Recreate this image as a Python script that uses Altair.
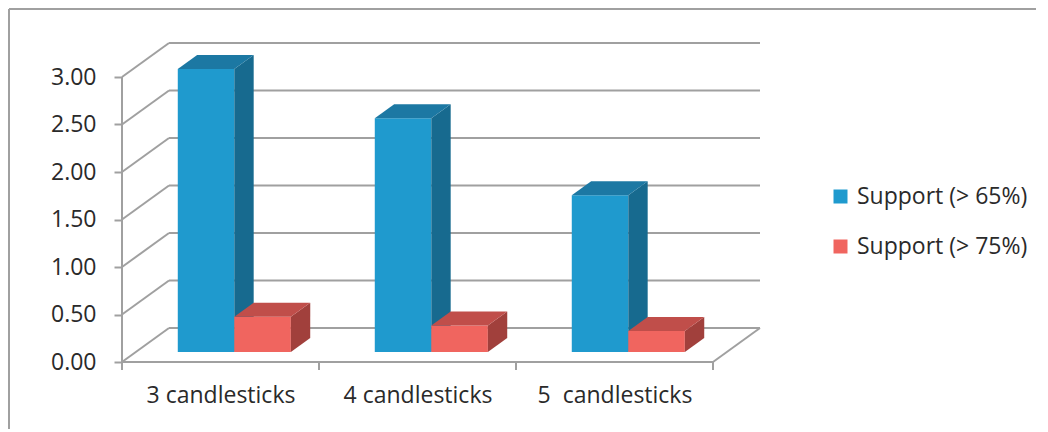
import altair as alt
import pandas as pd

# ---- data ----
categories = ["3 candlesticks", "4 candlesticks", "5\u00a0 candlesticks"]
series = ["Support (> 65%)", "Support (> 75%)"]
support65 = [2.98, 2.46, 1.65]
support75 = [0.37, 0.28, 0.22]
y_ticks = [0, 0.5, 1.0, 1.5, 2.0, 2.5, 3.0]

# ---- 3D look constants (category / value units) ----
BAR_W = 0.287      # bar width in category units
DX = 0.2386        # full depth shift along x (category units)
DY = 0.358         # full depth shift along y (value units)
ZF, ZB = 0.294, 0.706   # front / back depth of the bars
W_PX, H_PX = 638, 323

FRONT = ["#1F9ACE", "#F0655F"]
SIDE = ["#176A8F", "#A1403C"]
TOP = ["#1C78A3", "#C04E4A"]
GRID = "#A0A0A0"
TXT = "#2a2a2a"
FS = 23

values = [support65, support75]
front_rows, side_rows, top_rows = [], [], []
for i, c in enumerate(categories):
    for s_idx, s in enumerate(series):
        v = values[s_idx][i]
        x1 = i - BAR_W + s_idx * BAR_W + ZF * DX
        x2 = x1 + BAR_W
        d = (ZB - ZF) * DX
        key = f"{i}-{s_idx}"
        front_rows.append(dict(series=s, key=key, x1=x1, x2=x2, y1=ZF * DY, y2=v + ZF * DY))
        side_rows += [dict(series=s, key=key, x=x2, lo=ZF * DY, hi=v + ZF * DY),
                      dict(series=s, key=key, x=x2 + d, lo=ZB * DY, hi=v + ZB * DY)]
        top_rows += [dict(series=s, key=key, y=v + ZF * DY, xa=x1, xb=x2),
                     dict(series=s, key=key, y=v + ZB * DY, xa=x1 + d, xb=x2 + d)]

front_df = pd.DataFrame(front_rows)
side_df = pd.DataFrame(side_rows)
top_df = pd.DataFrame(top_rows)

n = len(categories)
seg = []
for g in y_ticks:
    seg.append(dict(x=-0.5 + DX, y=g + DY, x2=n - 0.5 + DX, y2=g + DY))  # back wall
    seg.append(dict(x=-0.5, y=g, x2=-0.5 + DX, y2=g + DY))               # left wall
seg.append(dict(x=-0.5, y=0, x2=-0.5, y2=y_ticks[-1]))                   # front value axis
seg.append(dict(x=-0.5, y=0, x2=n - 0.5, y2=0))                          # front floor edge
seg.append(dict(x=n - 0.5, y=0, x2=n - 0.5 + DX, y2=DY))                 # right floor edge
seg_df = pd.DataFrame(seg)
bounds_df = pd.DataFrame({"b": [i - 0.5 for i in range(n + 1)]})

xs = alt.Scale(domain=[-0.5, n - 0.5 + DX], nice=False, zero=False)
ys = alt.Scale(domain=[0, 3.4], nice=False, zero=False)

label_expr = "[" + ",".join("'" + c + "'" for c in categories) + "][datum.value]"

AX_X = alt.Axis(values=[0, 1, 2], labelExpr=label_expr, ticks=False, domain=False, grid=False,
                labelFontSize=FS, labelPadding=22, labelColor=TXT, title=None)
AX_Y = alt.Axis(values=y_ticks, format=".2f", ticks=True, tickSize=8, tickWidth=2,
                tickColor=GRID, domain=False, grid=False, labelFontSize=FS, labelPadding=18,
                labelColor=TXT, title=None)

grid = alt.Chart(seg_df).mark_rule(color=GRID, strokeWidth=2).encode(
    x=alt.X("x:Q", scale=xs, axis=AX_X),
    y=alt.Y("y:Q", scale=ys, axis=AX_Y),
    x2="x2:Q", y2="y2:Q",
)

xticks = alt.Chart(bounds_df).mark_rule(color=GRID, strokeWidth=2).encode(
    x=alt.X("b:Q", scale=xs, axis=AX_X),
    y=alt.value(H_PX), y2=alt.value(H_PX + 8),
)

one = pd.DataFrame({"a": [0]})
border_left = alt.Chart(one).mark_rule(color=GRID, strokeWidth=2).encode(
    x=alt.value(-113), y=alt.value(-30), y2=alt.value(390))
border_top = alt.Chart(one).mark_rule(color=GRID, strokeWidth=2).encode(
    x=alt.value(-113), x2=alt.value(914), y=alt.value(-30))

color = alt.Color("series:N", scale=alt.Scale(domain=series, range=FRONT),
                  legend=alt.Legend(title=None, orient="none", legendX=707, legendY=146,
                                    symbolType="square", symbolSize=196, symbolStrokeWidth=0,
                                    labelFontSize=FS, labelOffset=5, rowPadding=26,
                                    labelLimit=400, labelColor=TXT))

bar_layers = []
for s_idx, s in enumerate(series):
    f = alt.datum.series == s
    front = alt.Chart(front_df).transform_filter(f).mark_rect().encode(
        x=alt.X("x1:Q", scale=xs, axis=AX_X), x2="x2:Q",
        y=alt.Y("y1:Q", scale=ys, axis=AX_Y), y2="y2:Q",
        color=color,
    )
    side = alt.Chart(side_df).transform_filter(f).mark_area(color=SIDE[s_idx]).encode(
        x=alt.X("x:Q", scale=xs, axis=AX_X),
        y=alt.Y("hi:Q", scale=ys, axis=AX_Y, stack=None), y2="lo:Q",
        detail="key:N",
    )
    top = alt.Chart(top_df).transform_filter(f).mark_area(color=TOP[s_idx], orient="horizontal").encode(
        y=alt.Y("y:Q", scale=ys, axis=AX_Y),
        x=alt.X("xa:Q", scale=xs, axis=AX_X, stack=None), x2="xb:Q",
        detail="key:N",
    )
    bar_layers += [front, side, top]

chart = alt.layer(grid, xticks, *bar_layers, border_left, border_top).properties(
    width=W_PX, height=H_PX, padding=0,
).configure(font="Open Sans", background="white").configure_view(stroke=None)

chart.save("out.html", embed_options={"renderer": "svg", "actions": False})
